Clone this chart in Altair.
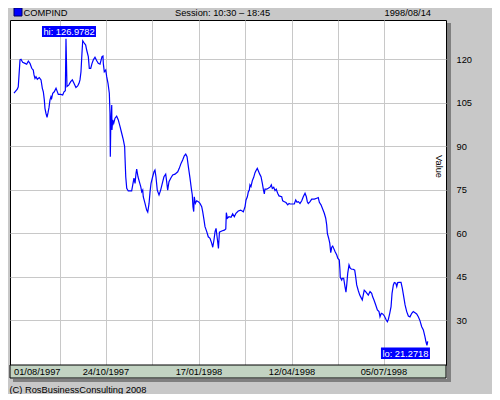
import altair as alt
import pandas as pd

# ---- data (day offset from 01/08/1997, index value) ----
days = [0, 3.0, 3.9, 5.5, 6.4, 7.9, 10.1, 11.6, 13.1, 14.6, 16.2, 17.6, 18.3, 19.2, 20.1, 21.3,
        23.1, 24.7, 25.9, 26.8, 27.7, 28.3, 29.2, 30.2, 31.1, 32.0, 32.9, 33.8, 34.4, 35.4, 36.8,
        38.4, 39.3, 40.5, 42.7, 44.5, 45.7, 46.9, 47.5, 48.4, 50.0, 51.8, 53.3, 54.8, 56.6, 58.2,
        59.4, 60.3, 61.2, 62.1, 62.8, 64.0, 65.5, 66.4, 67.9, 68.8, 70.1, 71.3, 72.5, 74.0, 75.6,
        77.0, 78.6, 80.4, 81.3, 81.6, 82.5, 83.8, 84.7, 85.9, 87.1, 87.7, 88.0, 88.4, 89.3, 89.5,
        90.2, 91.1, 92.3, 93.8, 95.3, 96.9, 98.4, 99.9, 101.1, 101.4, 102.1, 103.0, 104.4, 107.5,
        108.5, 109.6, 110.6, 111.5, 112.1, 113.3, 114.5, 115.8, 116.7, 117.6, 118.1, 119.7, 121.2,
        122.2, 123.4, 124.3, 125.2, 126.7, 127.9, 128.8, 129.7, 130.9, 132.5, 134.0, 135.5, 137.0,
        138.6, 139.5, 140.4, 141.6, 143.2, 145.0, 147.1, 149.6, 151.0, 152.6, 154.1, 155.6, 156.9,
        158.1, 159.3, 160.8, 162.0, 162.9, 163.5, 164.2, 164.7, 165.7, 166.9, 168.4, 169.9, 171.5,
        172.4, 173.6, 174.5, 176.1, 177.5, 179.1, 180.6, 181.6, 182.7, 183.7, 184.6, 185.9, 186.8,
        187.7, 189.8, 192.2, 193.5, 194.0, 194.9, 196.4, 198.3, 199.8, 201.3, 202.8, 204.9, 207.1,
        209.5, 211.1, 212.0, 213.2, 214.1, 215.0, 215.6, 216.5, 217.7, 219.0, 220.2, 221.4, 222.3,
        223.2, 224.5, 225.7, 226.9, 227.8, 228.7, 229.3, 230.9, 232.3, 233.9, 235.1, 236.0, 237.3,
        238.5, 239.6, 240.9, 242.1, 244.6, 245.5, 247.0, 248.5, 250.1, 251.3, 252.2, 254.3, 256.1,
        257.4, 258.6, 259.8, 261.3, 262.9, 264.3, 265.9, 267.1, 268.0, 268.9, 270.5, 272.0, 274.4,
        276.6, 278.0, 279.0, 280.5, 282.1, 283.5, 284.8, 285.7, 286.3, 287.5, 288.5, 289.4, 290.3,
        291.2, 292.1, 293.3, 294.9, 295.8, 297.2, 297.8, 298.1, 299.4, 300.0, 301.2, 302.4, 303.3,
        304.0, 304.9, 306.1, 307.3, 308.6, 310.0, 311.3, 312.2, 313.1, 314.6, 315.9, 317.0, 318.2,
        319.1, 320.0, 321.3, 322.5, 323.7, 325.3, 326.8, 327.7, 328.9, 330.5, 332.0, 333.5, 334.4,
        335.6, 336.9, 338.4, 339.9, 341.1, 342.0, 343.3, 344.5, 345.4, 346.6, 347.5, 348.8, 349.7,
        350.6, 352.0, 353.6, 354.8, 356.1, 357.3, 358.8, 360.3, 361.8, 363.4, 364.8, 366.4, 367.9,
        369.4, 370.9, 372.5, 374.0, 375.5, 376.4, 377.3, 378.0]

values = [108.2, 109.6, 110.4, 119.7, 119.9, 118.9, 118.5, 118.2, 119.3, 118.5, 116.8, 116.2, 114.5,
          113.3, 113.9, 113.0, 113.6, 112.8, 109.9, 108.7, 105.9, 103.0, 101.3, 99.9, 101.5, 103.3,
          105.9, 107.0, 106.4, 108.2, 108.7, 109.9, 109.0, 107.8, 107.8, 107.6, 108.7, 109.1,
          126.9782, 110.5, 111.0, 112.2, 112.8, 111.6, 110.2, 110.7, 111.6, 112.8, 115.6, 122.0,
          126.3, 125.6, 124.8, 123.1, 120.8, 116.8, 116.8, 118.5, 119.7, 120.6, 119.4, 118.5, 118.2,
          120.8, 121.0, 118.5, 115.6, 116.2, 113.9, 111.6, 108.2, 101.3, 86.3, 96.7, 104.1, 95.5,
          99.0, 97.8, 99.6, 100.3, 99.0, 96.7, 94.4, 92.1, 89.8, 86.3, 79.4, 75.4, 74.5, 74.5, 76.6,
          78.9, 77.1, 80.6, 82.0, 79.4, 77.7, 76.0, 74.2, 74.8, 72.5, 70.2, 67.9, 67.2, 70.2, 74.2,
          77.1, 79.4, 81.1, 81.7, 79.4, 74.8, 73.1, 74.8, 77.1, 79.4, 80.3, 77.7, 74.8, 77.7, 78.9,
          80.0, 80.3, 81.1, 82.3, 84.0, 85.2, 86.6, 87.2, 86.3, 82.9, 78.9, 75.4, 73.1, 69.1, 67.4,
          72.5, 70.2, 71.1, 70.8, 70.2, 69.1, 67.4, 64.5, 62.2, 60.5, 58.7, 58.2, 56.5, 55.1, 57.6,
          60.5, 61.6, 57.6, 54.7, 60.3, 60.7, 61.0, 61.4, 67.0, 65.1, 65.6, 65.4, 66.6, 65.6, 66.8,
          67.6, 67.9, 67.3, 69.1, 71.4, 72.5, 74.2, 74.8, 76.6, 76.0, 78.0, 79.2, 80.8, 81.7, 82.3,
          81.5, 80.3, 79.4, 77.1, 75.1, 73.5, 75.1, 75.1, 75.4, 75.8, 76.6, 75.4, 75.8, 74.6, 75.1,
          73.7, 72.8, 72.5, 71.1, 70.8, 70.5, 69.7, 70.2, 70.0, 70.0, 70.0, 71.4, 70.6, 70.8, 70.2,
          71.1, 72.5, 73.7, 72.5, 70.8, 70.2, 70.8, 71.7, 71.7, 72.0, 72.2, 70.6, 69.7, 68.2, 66.8,
          65.1, 62.8, 59.9, 58.2, 56.5, 53.2, 55.1, 55.5, 54.7, 53.6, 52.4, 51.3, 50.7, 47.2, 44.7,
          43.8, 44.4, 44.4, 41.5, 39.6, 42.1, 46.1, 49.0, 47.8, 47.5, 47.5, 47.2, 44.9, 42.1, 40.1,
          38.6, 37.8, 36.9, 38.6, 40.3, 39.8, 39.2, 38.6, 39.8, 39.2, 38.0, 36.9, 35.2, 33.5, 32.9,
          31.1, 32.3, 32.1, 31.4, 30.2, 29.4, 30.2, 32.3, 34.6, 39.2, 42.1, 42.9, 42.7, 41.5, 42.9,
          43.0, 43.0, 40.9, 38.0, 35.2, 32.9, 31.4, 31.1, 32.3, 32.9, 32.5, 32.1, 31.1, 29.8, 27.7,
          26.6, 24.2, 22.5, 21.2718, 22.6]

x_tick_days = [0, 84, 169, 254, 338]
x_tick_labels = ["01/08/1997", "24/10/1997", "17/01/1998", "12/04/1998", "05/07/1998"]
x_grid_days = [42, 84, 126.5, 169, 211.5, 254, 296, 338]
y_ticks = [30, 45, 60, 75, 90, 105, 120]

hi_day, hi_value = 47.5, 126.9782
lo_day, lo_value = 377.3, 21.2718

header_name = "COMPIND"
header_session = "Session: 10:30 \u2013 18:45"
header_date = "1998/08/14"
footer_text = "(C) RosBusinessConsulting 2008"

FONT = "Liberation Sans"
FS = 9.3
x_scale = alt.Scale(domain=[-3.65, 394.7], nice=False, zero=False)
y_scale = alt.Scale(domain=[14.49, 133.45], nice=False, zero=False)

x_axis = alt.Axis(values=x_grid_days, labels=False, title=None, ticks=False,
                  domain=False, grid=True, gridColor="#c8c8c8", gridWidth=1)
y_axis = alt.Axis(orient="right", values=y_ticks, title="Value", titleAngle=90,
                  titleX=-8, titleY=146, titleAlign="center", titleBaseline="middle",
                  titleFont=FONT, titleFontSize=FS, titleFontWeight="normal",
                  titleColor="black", ticks=False, domain=False,
                  grid=True, gridColor="#c8c8c8", gridWidth=1, labelPadding=10,
                  labelAlign="left", labelFont=FONT, labelFontSize=FS,
                  labelColor="black")

X = lambda: alt.X("day:Q", scale=x_scale, axis=x_axis)
Y = lambda: alt.Y("value:Q", scale=y_scale, axis=y_axis)

df = pd.DataFrame({"day": days, "value": values, "idx": list(range(len(days)))})
one = pd.DataFrame({"a": [0]})

# decorative box parts (label strip + shadow)
strip = alt.Chart(one).mark_rect(fill="#c2d3c2", stroke="black", strokeWidth=1).encode(
    x=alt.value(0), x2=alt.value(436), y=alt.value(345), y2=alt.value(358))
shadow_r = alt.Chart(one).mark_rect(fill="#808080").encode(
    x=alt.value(437), x2=alt.value(441), y=alt.value(3), y2=alt.value(362))
shadow_b = alt.Chart(one).mark_rect(fill="#808080").encode(
    x=alt.value(3), x2=alt.value(441), y=alt.value(359), y2=alt.value(362))

line = alt.Chart(df).mark_line(color="#0000ff", strokeWidth=1.2).encode(
    x=X(), y=Y(), order="idx:Q")

tick_df = pd.DataFrame({"day": x_tick_days, "label": x_tick_labels})
first_lab = alt.Chart(tick_df.iloc[:1]).mark_text(
    align="left", baseline="alphabetic", font=FONT, fontSize=FS, color="black").encode(
    x=X(), y=alt.value(355), text="label:N")
other_lab = alt.Chart(tick_df.iloc[1:]).mark_text(
    align="center", baseline="alphabetic", font=FONT, fontSize=FS, color="black").encode(
    x=X(), y=alt.value(355), text="label:N")

hi_df = pd.DataFrame({"day": [hi_day], "value": [hi_value],
                      "t": ["hi: " + f"{hi_value:.4f}"]})
lo_df = pd.DataFrame({"day": [lo_day], "value": [lo_value],
                      "t": ["lo: " + f"{lo_value:.4f}"]})

def box(d, w, h, dx, dy):
    r = h / w
    shape = f"M-1,{-r}L1,{-r}L1,{r}L-1,{r}Z"
    b = alt.Chart(d).mark_point(shape=shape, size=w * w, filled=True, fill="#0000ff",
                                opacity=1, strokeWidth=0, xOffset=dx, yOffset=dy).encode(
        x=X(), y=Y())
    t = alt.Chart(d).mark_text(color="white", font=FONT, fontSize=FS, align="center",
                               baseline="middle", dx=dx, dy=dy + 0.5).encode(
        x=X(), y=Y(), text="t:N")
    return [b, t]

def txt(s, x, y, align):
    return alt.Chart(pd.DataFrame({"t": [s]})).mark_text(
        align=align, baseline="alphabetic", font=FONT, fontSize=FS, color="black").encode(
        x=alt.value(x), y=alt.value(y), text="t:N")

legend_sq = alt.Chart(one).mark_rect(fill="#0000ff", stroke="#000060", strokeWidth=1).encode(
    x=alt.value(4), x2=alt.value(12), y=alt.value(-12), y2=alt.value(-4))

chart = alt.layer(
    line, strip, shadow_r, shadow_b, first_lab, other_lab,
    *box(hi_df, 54, 11, 3, -7.3),
    *box(lo_df, 49, 11.5, -21.5, 8),
    legend_sq,
    txt(header_name, 13.5, -4.5, "left"),
    txt(header_session, 212.5, -4.5, "center"),
    txt(header_date, 421, -4.5, "right"),
    txt(footer_text, -0.5, 372.5, "left"),
).properties(
    width=436, height=345, autosize="none",
    padding={"left": 2, "top": 12, "right": 46, "bottom": 29},
).configure(background="#c8c8c8").configure_view(fill="white", stroke="black", strokeWidth=1)

chart.save("out.html", embed_options={"renderer": "svg", "actions": False})
